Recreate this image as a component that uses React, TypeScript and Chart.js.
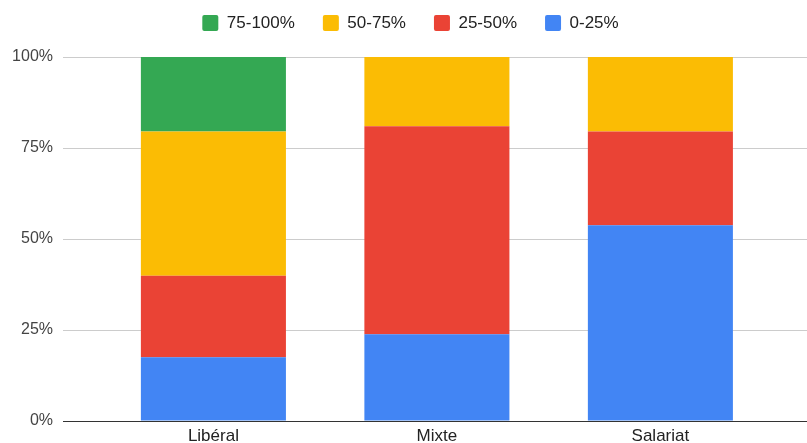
import React, { useEffect, useRef } from "react";
import { Chart, registerables } from "chart.js";

Chart.register(...registerables);

const CATEGORIES = ["Libéral", "Mixte", "Salariat"];
const SERIES_NAMES = ["0-25%", "25-50%", "50-75%", "75-100%"];
const SERIES_COLORS = ["#4285F4", "#EA4335", "#FBBC04", "#34A853"];
const VALUES_0_25 = [17.5, 23.8, 53.8];
const VALUES_25_50 = [22.4, 57.2, 25.7];
const VALUES_50_75 = [39.6, 19.0, 20.5];
const VALUES_75_100 = [20.5, 0, 0];
const Y_TICKS = [0, 25, 50, 75, 100];

const FONT = "Arial, 'Liberation Sans', sans-serif";

export default function App() {
  const ref = useRef<HTMLCanvasElement | null>(null);

  useEffect(() => {
    if (!ref.current) return;
    const series = [VALUES_0_25, VALUES_25_50, VALUES_50_75, VALUES_75_100];
    const datasets = series.map((vals, si) => ({
      label: SERIES_NAMES[si],
      data: vals.map((v, i) => ({ x: i, y: v })),
      backgroundColor: SERIES_COLORS[si],
      borderWidth: 0,
      categoryPercentage: 1,
      barPercentage: 0.649,
    }));

    const legendTweak = {
      id: "legendTweak",
      afterInit(chart: any) {
        const lg = chart.legend;
        if (!lg) return;
        const fit0 = lg.fit.bind(lg);
        lg.fit = function () {
          fit0();
          this.height = 57;
        };
        const draw0 = lg.draw.bind(lg);
        lg.draw = function () {
          const c = this.ctx;
          c.save();
          c.translate(7, -13.5);
          draw0();
          c.restore();
        };
      },
    };

    const chart = new Chart(ref.current, {
      type: "bar",
      data: { datasets: datasets as any },
      options: {
        animation: false,
        responsive: true,
        maintainAspectRatio: false,
        layout: { padding: 0 },
        plugins: {
          tooltip: { enabled: false },
          legend: {
            position: "top",
            reverse: true,
            labels: {
              boxWidth: 16,
              boxHeight: 16,
              padding: 28,
              useBorderRadius: true,
              borderRadius: 2,
              color: "#222222",
              font: { family: FONT, size: 17 },
            },
          },
        },
        scales: {
          x: {
            type: "linear",
            stacked: true,
            offset: false,
            bounds: "data",
            min: -0.673,
            max: 2.656,
            grid: { display: false, drawTicks: false, offset: false },
            border: { display: true, color: "#333333", width: 1 },
            afterBuildTicks: (scale: any) => {
              scale.ticks = CATEGORIES.map((_, i) => ({ value: i }));
            },
            afterFit: (scale: any) => {
              scale.height = 22;
            },
            ticks: {
              autoSkip: false,
              maxRotation: 0,
              padding: 5,
              color: "#222222",
              font: { family: FONT, size: 17 },
              callback: (v: any) => CATEGORIES[Number(v)] ?? "",
            },
          },
          y: {
            stacked: true,
            min: 0,
            max: 100,
            afterBuildTicks: (scale: any) => {
              scale.ticks = Y_TICKS.map((v) => ({ value: v }));
            },
            afterFit: (scale: any) => {
              scale.width = 63;
            },
            grid: {
              drawTicks: false,
              color: (ctx: any) => (ctx.tick && ctx.tick.value === 0 ? "#333333" : "#cccccc"),
            },
            border: { display: false },
            ticks: {
              padding: 10,
              color: "#444444",
              font: { family: FONT, size: 16 },
              callback: (v: any) => v + "%",
            },
          },
        },
      },
      plugins: [legendTweak],
    });
    return () => chart.destroy();
  }, []);

  return (
    <div style={{ position: "fixed", left: 0, top: 0, width: 807, height: 443, background: "#fff" }}>
      <canvas ref={ref} />
    </div>
  );
}
